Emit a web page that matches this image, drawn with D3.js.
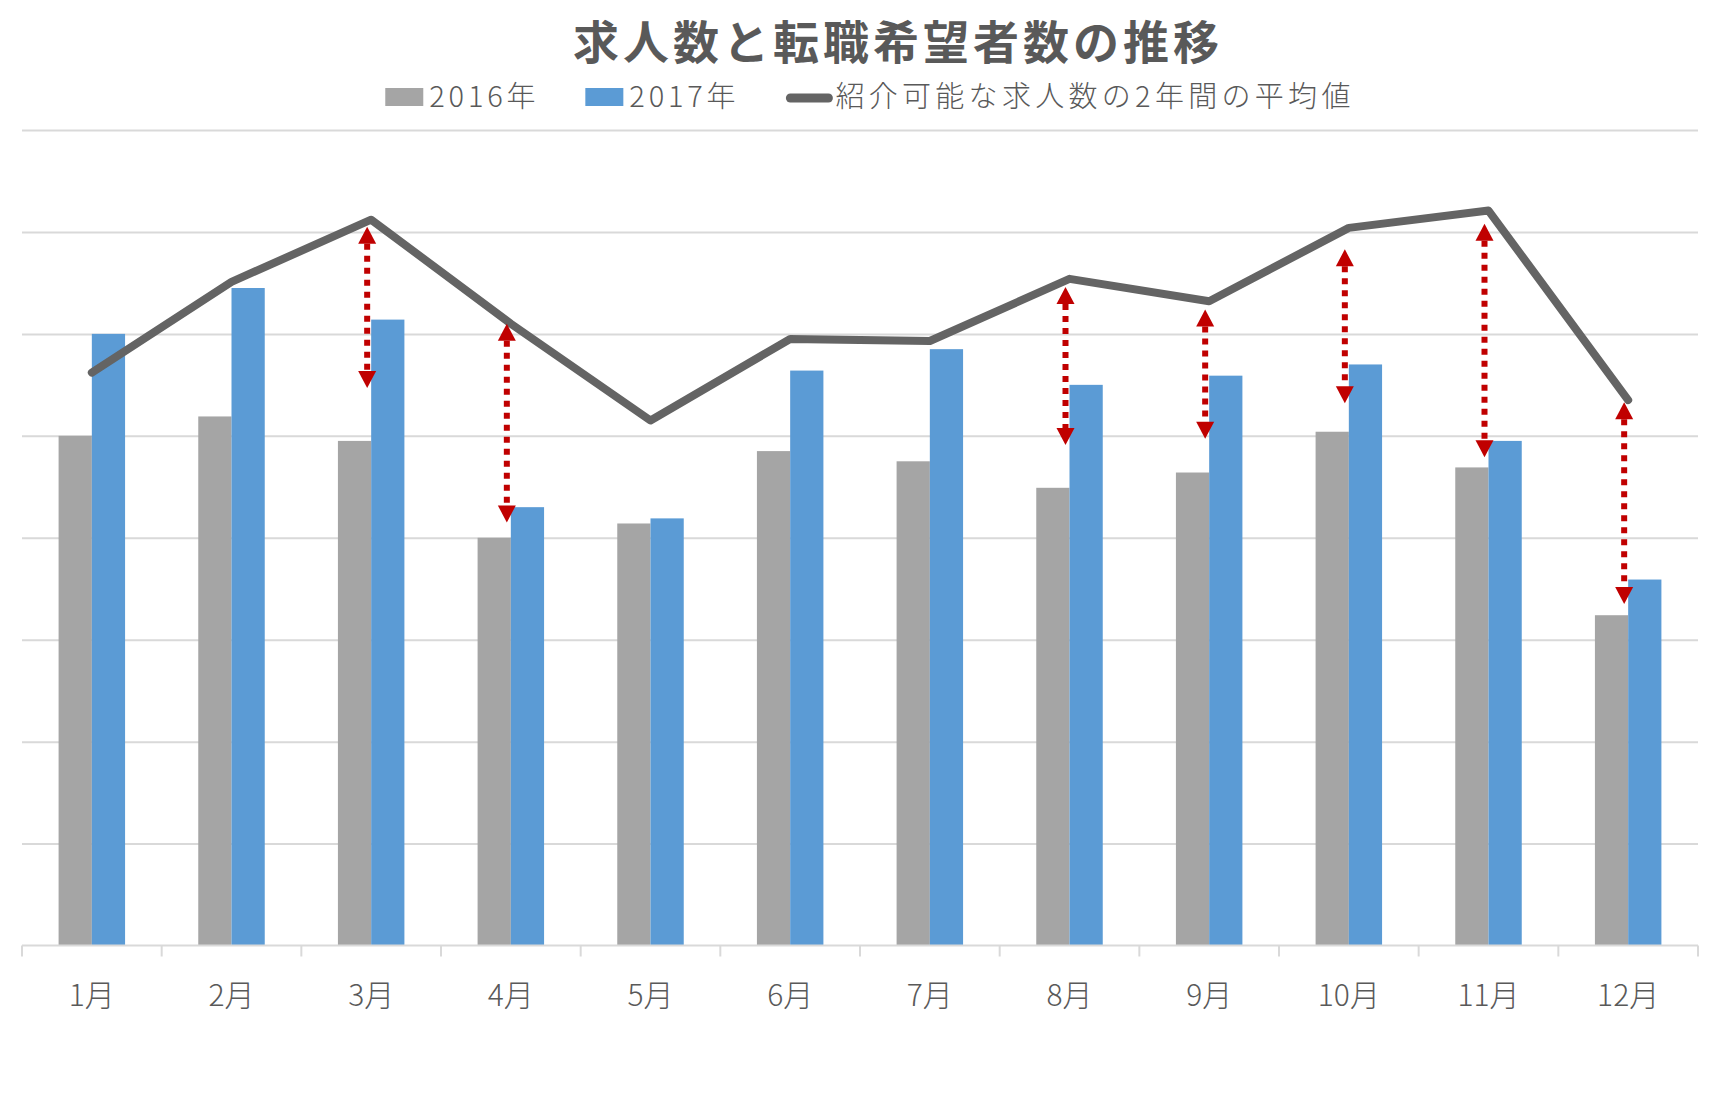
<!DOCTYPE html>
<html>
<head>
<meta charset="utf-8">
<script src="https://cdn.jsdelivr.net/npm/d3@7"></script>
<style>
  body { margin: 0; background: #fff; }
  text { font-family: "Noto Sans CJK JP", "Noto Sans", sans-serif; fill: #595959; }
</style>
</head>
<body>
<div id="chart"></div>
<script>
// 求人数と転職希望者数の推移 (縦軸は目盛りなし、グリッド1本 = 1単位)

const months = ["1月", "2月", "3月", "4月", "5月", "6月", "7月", "8月", "9月", "10月", "11月", "12月"];
const jobs2016 = [5.00, 5.19, 4.95, 4.00, 4.14, 4.85, 4.75, 4.49, 4.64, 5.04, 4.69, 3.24];
const jobs2017 = [6.00, 6.45, 6.14, 4.30, 4.19, 5.64, 5.85, 5.50, 5.59, 5.70, 4.95, 3.59];
const avgLine  = [5.62, 6.51, 7.12, 6.10, 5.15, 5.95, 5.93, 6.54, 6.32, 7.04, 7.21, 5.35];

// 赤い点線の両矢印(注釈)
const arrowMonths = ["3月", "4月", "8月", "9月", "10月", "11月", "12月"];
const arrowTop    = [7.05, 6.10, 6.46, 6.24, 6.83, 7.08, 5.33];
const arrowBottom = [5.47, 4.15, 4.91, 4.97, 5.32, 4.79, 3.35];

const yMax = 8;
const legendItems = ["2016年", "2017年", "紹介可能な求人数の2年間の平均値"];

const W = 1722, H = 1101;
const plot = { left: 22, right: 1698, top: 130, bottom: 945.5 };

const svg = d3.select("#chart").append("svg")
  .attr("width", W)
  .attr("height", H);

svg.append("rect").attr("width", W).attr("height", H).attr("fill", "#fff");

const x = d3.scaleBand().domain(months).range([plot.left, plot.right]);
const y = d3.scaleLinear().domain([0, yMax]).range([plot.bottom, plot.top]);
const barW = x.bandwidth() * 0.238;
const xSub = d3.scaleBand().domain(["2016", "2017"])
  .range([x.bandwidth() / 2 - barW, x.bandwidth() / 2 + barW]);

// gridlines
const grid = svg.append("g")
  .attr("transform", `translate(${plot.left},0)`)
  .call(d3.axisLeft(y).ticks(yMax).tickSize(-(plot.right - plot.left)).tickFormat(""));
grid.select(".domain").remove();
grid.selectAll(".tick line").attr("stroke", "#d9d9d9").attr("stroke-width", 2);
grid.selectAll(".tick").filter(d => d === 0).remove();

// bars
const rows = months.map((m, i) => ({ m, v16: jobs2016[i], v17: jobs2017[i], avg: avgLine[i] }));

svg.append("g").selectAll("rect.b16")
  .data(rows).join("rect")
  .attr("x", d => x(d.m) + xSub("2016"))
  .attr("y", d => y(d.v16))
  .attr("width", xSub.bandwidth())
  .attr("height", d => y(0) - y(d.v16))
  .attr("fill", "#a5a5a5");

svg.append("g").selectAll("rect.b17")
  .data(rows).join("rect")
  .attr("x", d => x(d.m) + xSub("2017"))
  .attr("y", d => y(d.v17))
  .attr("width", xSub.bandwidth())
  .attr("height", d => y(0) - y(d.v17))
  .attr("fill", "#5b9bd5");

// x axis
svg.append("line")
  .attr("x1", plot.left).attr("x2", plot.right)
  .attr("y1", y(0)).attr("y2", y(0))
  .attr("stroke", "#d9d9d9").attr("stroke-width", 2);

const edges = months.map(m => x(m)).concat([plot.right]);
svg.append("g").selectAll("line")
  .data(edges).join("line")
  .attr("x1", d => d).attr("x2", d => d)
  .attr("y1", y(0)).attr("y2", y(0) + 11)
  .attr("stroke", "#d9d9d9").attr("stroke-width", 2);

const xAxis = svg.append("g")
  .attr("transform", `translate(0,${y(0)})`)
  .call(d3.axisBottom(x).tickSize(0).tickPadding(0));
xAxis.select(".domain").remove();
xAxis.selectAll("text")
  .attr("y", 50)
  .attr("dy", "0.35em")
  .attr("font-size", 30)
  .attr("font-weight", 300)
  .attr("fill", "#595959")
  .style("font-family", '"Noto Sans CJK JP", sans-serif');

// average line
const line = d3.line()
  .x(d => x(d.m) + x.bandwidth() / 2)
  .y(d => y(d.avg));

svg.append("path")
  .datum(rows)
  .attr("d", line)
  .attr("fill", "none")
  .attr("stroke", "#646464")
  .attr("stroke-width", 8)
  .attr("stroke-linejoin", "round")
  .attr("stroke-linecap", "round");

// red dotted double arrows
const arrows = arrowMonths.map((m, i) => ({ m, top: arrowTop[i], bottom: arrowBottom[i] }));
const headH = 17, headW = 9;
const ag = svg.append("g").selectAll("g").data(arrows).join("g")
  .attr("transform", d => `translate(${x(d.m) + x.bandwidth() / 2 - 4},0)`);

ag.append("line")
  .attr("x1", 0).attr("x2", 0)
  .attr("y1", d => y(d.top) + headH)
  .attr("y2", d => y(d.bottom) - headH)
  .attr("stroke", "#c00000")
  .attr("stroke-width", 6)
  .attr("stroke-dasharray", "6,6");

ag.append("path")
  .attr("d", d => {
    const t = y(d.top);
    return `M0,${t}L${headW},${t + headH}L${-headW},${t + headH}Z`;
  })
  .attr("fill", "#c00000");

ag.append("path")
  .attr("d", d => {
    const b = y(d.bottom);
    return `M0,${b}L${headW},${b - headH}L${-headW},${b - headH}Z`;
  })
  .attr("fill", "#c00000");

// title
svg.append("text")
  .attr("x", 898)
  .attr("y", 43)
  .attr("dy", "0.35em")
  .attr("text-anchor", "middle")
  .attr("font-size", 46)
  .attr("font-weight", "bold")
  .attr("letter-spacing", 4)
  .text("求人数と転職希望者数の推移");

// legend
const legend = svg.append("g");
const legendY = 97;
const swW = 38, swH = 18, swGap = 6, itemGap = 46;
let cx = 0;
legendItems.forEach((label, i) => {
  const item = legend.append("g").attr("transform", `translate(${cx},0)`);
  if (i < 2) {
    item.append("rect")
      .attr("x", 0).attr("y", legendY - swH / 2)
      .attr("width", swW).attr("height", swH)
      .attr("fill", i === 0 ? "#a5a5a5" : "#5b9bd5");
  } else {
    item.append("line")
      .attr("x1", 5).attr("x2", 43)
      .attr("y1", legendY + 1).attr("y2", legendY + 1)
      .attr("stroke", "#646464").attr("stroke-width", 9)
      .attr("stroke-linecap", "round");
  }
  const sw = i < 2 ? swW : 48;
  const t = item.append("text")
    .attr("x", sw + swGap - (i < 2 ? 0 : 4))
    .attr("y", legendY)
    .attr("dy", "0.35em")
    .attr("font-size", 29)
    .attr("font-weight", 300)
    .attr("letter-spacing", i < 2 ? 3.8 : 4.3)
    .text(label);
  cx += sw + swGap + t.node().getComputedTextLength() + itemGap;
});
const lw = cx - itemGap;
legend.attr("transform", `translate(${872 - lw / 2},0)`);
</script>
</body>
</html>
